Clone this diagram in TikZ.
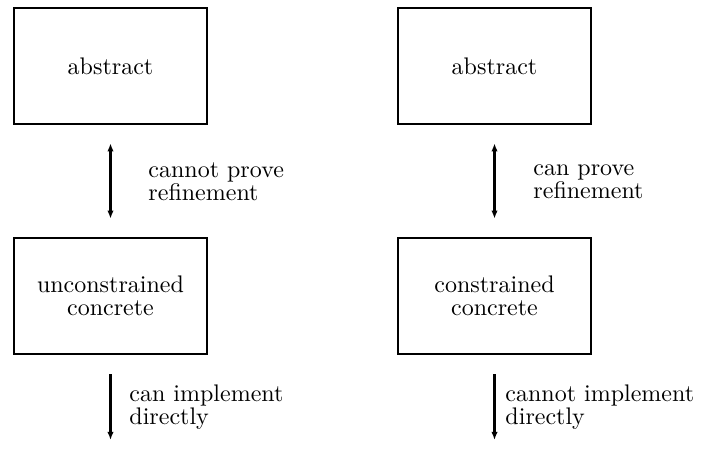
\documentclass[tikz,border=0pt]{standalone}
\usetikzlibrary{arrows.meta}
\begin{document}
\begin{tikzpicture}[x=0.41667pt,y=-0.41667pt,
  box/.style={draw,line width=1.1pt,minimum width=193*0.41667pt,minimum height=116*0.41667pt,inner sep=0pt,align=center,font=\fontsize{10}{9.5}\selectfont},
  lbl/.style={anchor=west,inner sep=0pt,align=left,font=\fontsize{10}{9.5}\selectfont},
  conn/.style={line width=1.2pt,-{Latex[length=3.4pt,width=2.7pt]}},
  biconn/.style={line width=1.2pt,{Latex[length=3.4pt,width=2.7pt]}-{Latex[length=3.4pt,width=2.7pt]}}]
\useasboundingbox (0,0) rectangle (706,450);
\node[box] (a1) at (110.5,66) {abstract};
\node[box] (c1) at (110.5,296) {unconstrained\\concrete};
\node[box] (a2) at (494.5,66) {abstract};
\node[box] (c2) at (494.5,296) {constrained\\concrete};
\coordinate (e1) at (110.5,440);
\coordinate (e2) at (494.5,440);
\draw[biconn,shorten <=18*0.41667pt,shorten >=18*0.41667pt] (a1) -- (c1);
\draw[biconn,line width=1pt,shorten <=18*0.41667pt,shorten >=18*0.41667pt] (a2) -- (c2);
\draw[conn,shorten <=19*0.41667pt] (c1.south) -- (e1);
\draw[conn,line width=1pt,shorten <=19*0.41667pt] (c2.south) -- (e2);
\node[lbl] (l1) at (148,182) {cannot prove\\refinement};
\node[lbl] (l2) at (533,182) {can prove\\refinement};
\node[lbl] (l3) at (129,407) {can implement\\directly};
\node[lbl] (l4) at (505,407) {cannot implement\\directly};
\end{tikzpicture}
\end{document}
